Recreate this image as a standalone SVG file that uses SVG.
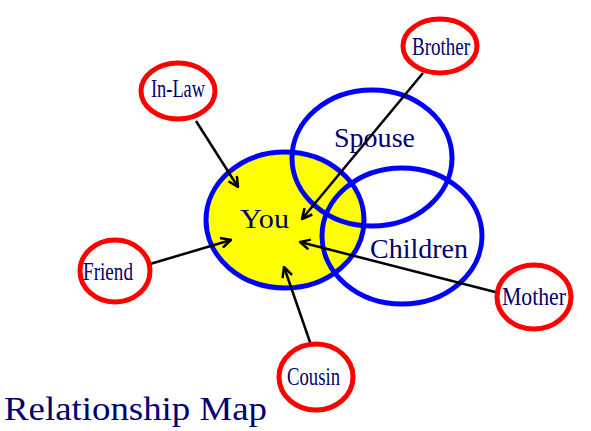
<svg xmlns="http://www.w3.org/2000/svg" width="591" height="431" viewBox="0 0 591 431">
<defs>
<style>
.big{fill:none;stroke:#0000ff;stroke-width:5}
.rel{fill:#ffffff;stroke:#ff0000;stroke-width:5}
.t{font-family:"Liberation Serif","Times New Roman",serif;fill:#000070}
.s{font-size:25px}
.l{font-size:28px}
.c{stroke:#000;stroke-width:2.5;fill:none}
</style>
<marker id="ah" viewBox="0 0 12 12" refX="11" refY="6" markerWidth="12" markerHeight="12" markerUnits="userSpaceOnUse" orient="auto">
<path d="M1,1 L11,6 L1,11" fill="none" stroke="#000" stroke-width="2.5"/>
</marker>
</defs>
<rect width="591" height="431" fill="#fff"/>
<g id="you"><ellipse cx="285" cy="220" rx="79" ry="68" fill="#ffff00" stroke="#0000ff" stroke-width="5"/><text class="t l" x="240" y="228" textLength="49" lengthAdjust="spacingAndGlyphs">You</text></g>
<g id="spouse"><ellipse class="big" cx="372" cy="158" rx="80" ry="68"/><text class="t l" x="334" y="147" textLength="81" lengthAdjust="spacingAndGlyphs">Spouse</text></g>
<g id="children"><ellipse class="big" cx="402" cy="236" rx="80" ry="68"/><text class="t l" x="370" y="258" textLength="98" lengthAdjust="spacingAndGlyphs">Children</text></g>
<g id="connectors">
<line class="c" x1="196" y1="121" x2="238" y2="187" marker-end="url(#ah)"/>
<line class="c" x1="423" y1="73" x2="302" y2="219" marker-end="url(#ah)"/>
<line class="c" x1="150" y1="264" x2="231" y2="240" marker-end="url(#ah)"/>
<line class="c" x1="311" y1="345" x2="284" y2="267" marker-end="url(#ah)"/>
<line class="c" x1="499" y1="293" x2="300" y2="242" marker-end="url(#ah)"/>
</g>
<g id="inlaw"><ellipse class="rel" cx="178" cy="91" rx="37" ry="28"/><text class="t s" x="151" y="97" textLength="54" lengthAdjust="spacingAndGlyphs">In-Law</text></g>
<g id="brother"><ellipse class="rel" cx="440" cy="46" rx="37" ry="27"/><text class="t s" x="412" y="55" textLength="58" lengthAdjust="spacingAndGlyphs">Brother</text></g>
<g id="friend"><ellipse class="rel" cx="115" cy="271" rx="35" ry="31"/><text class="t s" x="83" y="280" textLength="50" lengthAdjust="spacingAndGlyphs">Friend</text></g>
<g id="cousin"><ellipse class="rel" cx="316" cy="377" rx="37" ry="33"/><text class="t s" x="287" y="385" textLength="53" lengthAdjust="spacingAndGlyphs">Cousin</text></g>
<g id="mother"><ellipse class="rel" cx="534" cy="297" rx="37" ry="32"/><text class="t s" x="502" y="305" textLength="64" lengthAdjust="spacingAndGlyphs">Mother</text></g>
<text class="t" x="4" y="420" style="font-size:33px" textLength="263" lengthAdjust="spacingAndGlyphs">Relationship Map</text>
</svg>
